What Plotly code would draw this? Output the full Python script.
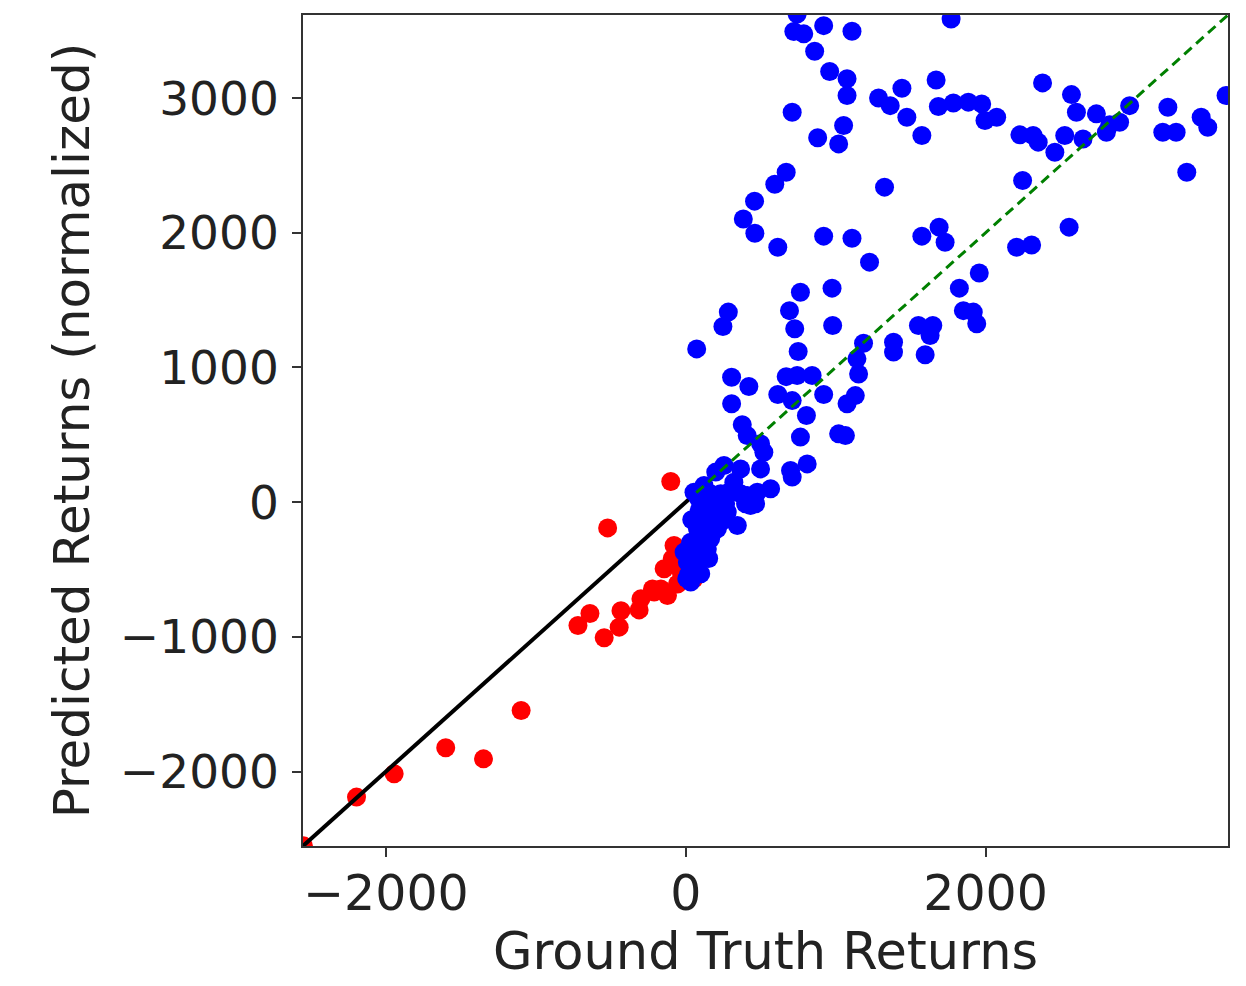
import plotly.graph_objects as go

# ---- data ----
blue_x = [743, 721, 787, 920, 1109, 1770, 860, 960, 1076, 1076, 710, 1053, 880, 1020,
          670, 594, 459, 384, 461, 614, 920, 1109, 1226, 765, 976, 1286, 1442, 1364,
          1475, 1575, 1670, 1685, 1785, 1885, 1974, 1996, 2074, 2380, 2573, 2606, 2739,
          2229, 2317, 2351, 2462, 2528, 2650, 2806, 2894, 2961, 3216, 3182, 3271, 3438,
          3482, 3604, 3342, 2247, 1326, 2557, 2207, 2307, 1575, 1690, 1730, 1958, 1825,
          2828, 284, 248, 692, 727, 980, 73, 750, 306, 421, 670, 743, 843, 614, 710, 920,
          805, 306, 377, 410, 499, 765, 1020, 1076, 1131, 1142, 1153, 1852, 1918, 1941,
          1552, 1648, 1630, 1186, 1386, 1386, 1597, 1065, 810, 699, 710, 499, 566, 454,
          432, 521, 255, 200, 122, 55, 321, 410, 477, 344, 211, 122, 78, 211, 33, 144, 11,
          55, 100, 277, 166, -11, 20, 67, 100, 180, 246, 166, 286, 366, 7, 40, 90, 150,
          86, 153, 233, 299, 366, 266, 180, 246, 133, 100, 153, 67, 33, 100, 399, 466]
blue_y = [3625, 3495, 3477, 3538, 3497, 3588, 3348, 3197, 3143, 3019, 2895, 2796, 2705,
          2660, 2450, 2361, 2235, 2103, 1997, 1893, 1975, 1960, 1782, 1559, 1589, 3001,
          3073, 2944, 2858, 2722, 3135, 2937, 2964, 2970, 2957, 2833, 2858, 3113, 3026,
          2895, 2883, 2727, 2722, 2673, 2598, 2722, 2697, 2747, 2821, 2944, 2932, 2747,
          2747, 2858, 2784, 3019, 2450, 2388, 2339, 2042, 1893, 1910, 1975, 2042, 1930,
          1702, 1589, 2803, 1411, 1304, 1422, 1287, 1311, 1138, 1118, 928, 858, 932, 940,
          940, 799, 754, 799, 643, 730, 574, 494, 433, 483, 507, 730, 791, 1064, 952, 1422,
          1411, 1324, 1311, 1311, 1237, 1180, 1188, 1114, 1094, 494, 284, 235, 186, 247,
          99, 37, -25, 371, 272, 223, 123, 74, 148, 49, 74, -174, -25, -99, -198, -198,
          -297, -347, -445, -520, -50, -74, -272, -371, -535, -420, -235, -165, 25, 62,
          62, 247, -568, -130, -60, 10,
          25, -3, 62, 83, 62, -12, -87, -139, -183, -310, -419, -494, -593, -531, -12, -12]

red_x = [-100, -521, -639, -719, -544, -444, -432, -299, -311, -222, -144, -122, -78,
         -55, 11, 55, -211, -166, -1098, -1601, -1349, -1945, -2196, -2550, -30, -90]
red_y = [153, -191, -827, -916, -1007, -928, -807, -718, -800, -644, -495, -693, -322,
         -607, -569, -569, -668, -644, -1547, -1824, -1906, -2017, -2190, -2552, -520, -420]

axis_min = -2553
axis_max = 3617
line_split = 70

x_ticks = [-2000, 0, 2000]
y_ticks = [-2000, -1000, 0, 1000, 2000, 3000]

fig = go.Figure()

fig.add_trace(go.Scatter(
    x=red_x, y=red_y, mode="markers",
    marker=dict(color="#ff0000", size=19, line=dict(width=0)),
    showlegend=False, hoverinfo="skip"))

fig.add_trace(go.Scatter(
    x=[axis_min, line_split], y=[axis_min, line_split], mode="lines",
    line=dict(color="#000000", width=4),
    showlegend=False, hoverinfo="skip"))

fig.add_trace(go.Scatter(
    x=blue_x, y=blue_y, mode="markers",
    marker=dict(color="#0000ff", size=19, line=dict(width=0)),
    showlegend=False, hoverinfo="skip"))

fig.add_trace(go.Scatter(
    x=[line_split, axis_max], y=[line_split, axis_max], mode="lines",
    line=dict(color="#008000", width=3, dash="10px,6px"),
    showlegend=False, hoverinfo="skip"))

font_family = "DejaVu Sans"

fig.update_xaxes(
    range=[axis_min, axis_max], tickvals=x_ticks,
    showgrid=False, zeroline=False,
    showline=True, mirror=True, linecolor="#333333", linewidth=1.5,
    ticks="outside", ticklen=9, tickwidth=1.5, tickcolor="#333333",
    tickfont=dict(family=font_family, size=49, color="#222222"),
    ticklabelstandoff=-6,
    title=dict(text="Ground Truth Returns",
               font=dict(family=font_family, size=51, color="#222222"),
               standoff=10),
)
fig.update_yaxes(
    range=[axis_min, axis_max], tickvals=y_ticks,
    showgrid=False, zeroline=False,
    showline=True, mirror=True, linecolor="#333333", linewidth=1.5,
    ticks="outside", ticklen=9, tickwidth=1.5, tickcolor="#333333",
    tickfont=dict(family=font_family, size=47, color="#222222"),
    ticklabelstandoff=4,
    title=dict(text="Predicted Returns (normalized)",
               font=dict(family=font_family, size=50, color="#222222"),
               standoff=14),
)

fig.update_layout(
    width=1246, height=986,
    margin=dict(l=303, r=18, t=15, b=140),
    plot_bgcolor="white", paper_bgcolor="white",
)

fig.write_html("out.html")
